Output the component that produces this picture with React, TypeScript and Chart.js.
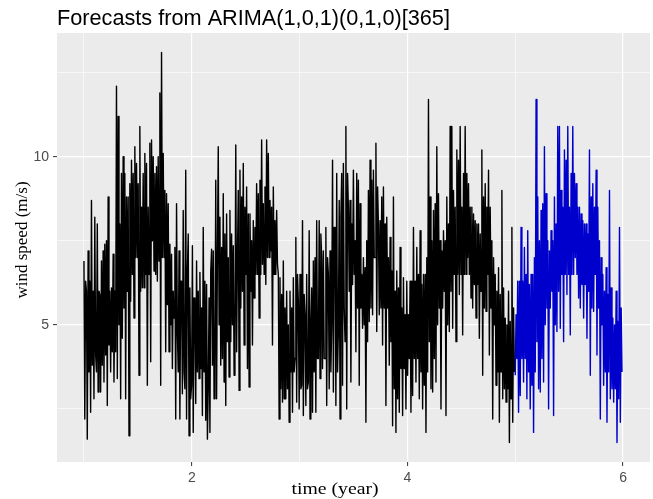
import { useEffect, useRef } from "react";
import { Chart, registerables } from "chart.js";

Chart.register(...registerables);

const startYear = 1;
const forecastStartYear = 5;
const observedYears = 4;

const observedWind = [
  6.9, 2.2, 6.3,
  6.0, 1.6, 7.2, 3.6,
  6.3, 2.4, 8.7, 3.8,
  6.0, 2.8, 8.2, 4.1,
  3.6, 8.0, 3.0, 6.0,
  5.9, 3.0, 6.9, 3.8,
  7.2, 3.3, 7.4, 4.1,
  7.5, 2.6, 8.8, 4.4,
  6.0, 3.6, 6.1, 4.2,
  7.1, 3.3, 6.0, 4.2,
  12.1, 3.4, 11.2, 5.0,
  8.0, 2.8, 9.5, 4.6,
  10.0, 5.5, 9.5, 2.8,
  8.8, 6.0, 8.8, 1.7,
  9.2, 5.7, 9.9, 6.5,
  9.5, 5.2, 10.3, 7.0,
  9.8, 7.0, 9.2, 3.5,
  10.9, 6.0, 8.5, 6.1,
  9.5, 6.1, 10.1, 6.5,
  9.8, 3.2, 8.5, 6.5,
  10.4, 3.9, 10.5, 7.5,
  10.0, 6.6, 9.5, 6.5,
  9.7, 6.3, 10.0, 6.9,
  11.9, 3.2, 13.1, 7.0,
  10.1, 7.0, 9.0, 4.2,
  8.9, 5.6, 8.6, 4.2,
  7.4, 5.0, 7.1, 3.7, 6.0, 5.2,
  // ~1.84 - 2.67
  7.3, 2.2, 8.6, 4.8,
  3.6, 7.2, 2.2, 6.3,
  6.3, 2.95, 8.4, 3.6,
  3.1, 9.6, 2.2, 6.6,
  7.7, 1.7, 6.1, 2.8,
  3.2, 7.35, 1.8, 5.8,
  5.5, 2.66, 6.9, 3.6,
  6.0, 3.4, 6.56, 3.7,
  5.5, 2.3, 7.9, 3.6,
  6.3, 2.16, 6.2, 1.6,
  3.1, 5.8, 1.8, 6.6,
  7.25, 3.8, 7.2, 2.8,
  3.6, 9.3, 2.8, 7.1,
  10.3, 5.0, 8.2, 3.8,
  7.3, 4.0, 8.9, 3.3,
  7.7, 2.6, 8.3, 4.5,
  7.0, 3.45, 8.4, 4.5,
  7.7, 5.0, 7.35, 3.5,
  4.5, 10.35, 4.2, 7.0,
  9.0, 3.05, 9.6, 5.5,
  8.8, 6.0, 9.8, 4.4,
  8.5, 6.5, 9.1, 3.7,
  8.3, 3.15, 8.3, 6.0,
  7.5, 4.4, 8.1, 5.8,
  7.9, 6.5, 9.2, 6.5,
  8.9, 5.2, 9.3, 6.5, 10.5, 6.8, 8.6, 6.5,
  // ~2.67 - 3.51
  9.1, 6.2, 10.5, 7.0,
  10.1, 7.0, 8.7, 7.2,
  8.5, 4.4, 9.1, 6.5,
  8.1, 6.5, 8.4, 6.8,
  6.5, 2.2, 6.4, 3.1,
  5.9, 2.7, 6.9, 2.8,
  5.5, 2.8, 6.0, 3.1,
  5.0, 2.1, 6.0, 3.6,
  5.5, 2.4, 6.4, 3.6,
  4.0, 7.6, 2.7, 6.5,
  5.7, 2.5, 6.5, 3.1,
  3.2, 8.1, 2.3, 5.9,
  5.3, 2.6, 6.5, 3.1,
  3.3, 7.8, 2.2, 5.0,
  6.1, 2.4, 6.9, 3.6,
  7.0, 2.4, 8.1, 4.0,
  4.0, 8.1, 3.4, 7.7,
  7.0, 3.7, 7.2, 4.0,
  4.0, 7.9, 2.6, 7.0,
  6.5, 3.1, 7.2, 3.6,
  5.0, 9.9, 3.0, 7.9,
  7.9, 2.6, 9.5, 3.6,
  4.8, 8.7, 2.2, 8.2,
  9.5, 3.2, 9.8, 5.5,
  4.5, 10.9, 2.5, 9.5,
  8.5, 6.0, 8.7, 3.3, 8.0, 6.2, 9.6, 6.5,
  // ~3.51 - 4.34
  7.5, 4.2, 9.5, 5.5,
  9.3, 3.2, 8.6, 5.5,
  6.5, 4.9, 7.0, 5.0,
  6.7, 2.1, 7.5, 4.5,
  9.0, 5.1, 9.9, 5.5,
  9.3, 5.3, 9.6, 7.0,
  7.0, 10.4, 4.8, 9.1,
  8.0, 5.3, 8.1, 5.5,
  8.8, 4.4, 9.1, 5.5,
  8.0, 2.6, 8.2, 5.5,
  7.0, 3.8, 7.6, 4.5,
  6.6, 2.0, 8.8, 3.1,
  6.0, 1.8, 6.6, 2.8,
  6.1, 2.4, 7.3, 3.7,
  5.5, 2.3, 6.4, 3.7,
  5.3, 2.5, 6.3, 3.5,
  5.3, 4.0, 6.3, 2.4,
  6.3, 2.9, 7.9, 4.0,
  6.3, 3.3, 7.3, 4.0,
  6.5, 2.8, 7.8, 3.6,
  6.2, 2.5, 6.5, 3.2,
  6.5, 1.8, 7.0, 3.6,
  11.7, 4.5, 8.8, 3.1,
  7.5, 3.0, 8.4, 4.0,
  8.6, 3.3, 10.3, 5.0,
  8.9, 5.5, 7.5, 2.5, 7.2, 5.5, 7.8, 6.0,
  // ~4.34 - 5
  7.5, 2.3, 8.8, 5.0,
  8.0, 4.8, 10.9, 6.0,
  10.9, 4.9, 9.0, 6.5,
  8.5, 4.5, 10.2, 6.5,
  9.9, 5.9, 10.9, 6.5,
  8.5, 4.7, 9.5, 6.5,
  10.9, 6.5, 9.5, 7.0,
  9.2, 6.5, 8.5, 5.8,
  8.5, 5.5, 8.3, 6.2,
  8.1, 5.2, 8.0, 6.2,
  8.0, 4.6, 7.7, 6.0,
  10.2, 3.5, 8.8, 5.5,
  9.2, 5.4, 8.5, 6.5,
  9.6, 4.1, 8.5, 5.5,
  7.5, 2.2, 7.0, 5.0,
  6.5, 3.2, 6.0, 3.6,
  6.7, 2.1, 5.9, 3.6,
  9.0, 2.8, 6.1, 3.1,
  5.2, 2.7, 5.0, 3.1,
  6.0, 1.5, 5.1, 2.8,
  7.9, 2.1, 5.5, 3.6,
];

// Forecast (blue) wind speed (m/s) (years 5 to 6)
const forecastWind = [
  3.5,
  5.3, 4.0, 6.3, 2.4,
  6.3, 2.9, 7.9, 4.0,
  6.3, 3.3, 7.3, 4.0,
  6.5, 2.8, 7.8, 3.6,
  6.2, 2.5, 6.5, 3.2,
  6.5, 1.8, 7.0, 3.6,
  11.7, 4.5, 8.8, 3.1,
  7.5, 3.0, 8.4, 4.0,
  8.6, 3.3, 10.3, 5.0,
  8.9, 5.5, 7.5, 2.5, 7.2, 5.5, 7.8, 6.0,
  7.5, 2.3, 8.8, 5.0,
  8.0, 4.8, 10.9, 6.0,
  10.9, 4.9, 9.0, 6.5,
  8.5, 4.5, 10.2, 6.5,
  9.9, 5.9, 10.9, 6.5,
  8.5, 4.7, 9.5, 6.5,
  10.9, 6.5, 9.5, 7.0,
  9.2, 6.5, 8.5, 5.8,
  8.5, 5.5, 8.3, 6.2,
  8.1, 5.2, 8.0, 6.2,
  8.0, 4.6, 7.7, 6.0,
  10.2, 3.5, 8.8, 5.5,
  9.2, 5.4, 8.5, 6.5,
  9.6, 4.1, 8.5, 5.5,
  7.5, 2.2, 7.0, 5.0,
  6.5, 3.2, 6.0, 3.6,
  6.7, 2.1, 5.9, 3.6,
  9.0, 2.8, 6.1, 3.1,
  5.2, 2.7, 5.0, 3.1,
  6.0, 1.5, 5.1, 2.8,
  7.9, 2.1, 5.5, 3.6,
];

const xGridTicks = [1, 2, 3, 4, 5, 6];
const xLabelTicks = [2, 4, 6];
const yGridTicks = [2.5, 5, 7.5, 10, 12.5];
const yLabelTicks = [5, 10];

const titleText = "Forecasts from ARIMA(1,0,1)(0,1,0)[365]";
const xTitleText = "time (year)";
const yTitleText = "wind speed (m/s)";

export default function App() {
  const ref = useRef<HTMLCanvasElement>(null);

  useEffect(() => {
    document.body.style.margin = "0";
    const canvas = ref.current;
    if (!canvas) return;
    const perYear = observedWind.length / observedYears;
    const obs = observedWind.map((v, i) => ({ x: startYear + i / perYear, y: v }));
    const fc = forecastWind.map((v, i) => ({ x: forecastStartYear + i / perYear, y: v }));

    const panelBg = {
      id: "panelBg",
      beforeDraw(chart: any) {
        const { ctx, chartArea: a } = chart;
        ctx.save();
        ctx.fillStyle = "#EBEBEB";
        ctx.fillRect(a.left, a.top, a.right - a.left, a.bottom - a.top);
        ctx.restore();
      },
    };

    const texts = {
      id: "texts",
      afterDraw(chart: any) {
        const { ctx, chartArea: a } = chart;
        ctx.save();
        ctx.fillStyle = "#000000";
        ctx.textBaseline = "alphabetic";
        ctx.textAlign = "left";
        ctx.font = "21.7px 'Liberation Sans', Arial, sans-serif";
        ctx.fillText(titleText, a.left, 25);
        ctx.restore();

        ctx.save();
        ctx.fillStyle = "#000000";
        ctx.font = "17px 'Liberation Serif', 'Times New Roman', serif";
        ctx.textAlign = "center";
        ctx.textBaseline = "alphabetic";
        ctx.translate(335, 494);
        ctx.scale(1.16, 1);
        ctx.fillText(xTitleText, 0, 0);
        ctx.restore();

        ctx.save();
        ctx.fillStyle = "#000000";
        ctx.font = "17px 'Liberation Serif', 'Times New Roman', serif";
        ctx.textAlign = "center";
        ctx.textBaseline = "middle";
        ctx.translate(23, 240);
        ctx.rotate(-Math.PI / 2);
        ctx.fillText(yTitleText, 0, 0);
        ctx.restore();
      },
    };

    const gridWidth = (majors: number[]) => (c: any) =>
      c.tick && majors.includes(c.tick.value) ? 1.2 : 0.6;
    const tickCol = (majors: number[]) => (c: any) =>
      c.tick && majors.includes(c.tick.value) ? "#333333" : "rgba(0,0,0,0)";

    const chart = new Chart(canvas, {
      type: "line",
      data: {
        datasets: [
          {
            data: obs,
            borderColor: "#000000",
            borderWidth: 1.4,
            pointRadius: 0,
            tension: 0,
            borderJoinStyle: "round",
          },
          {
            data: fc,
            borderColor: "#0000CC",
            borderWidth: 1.4,
            pointRadius: 0,
            tension: 0,
            borderJoinStyle: "round",
          },
        ],
      },
      options: {
        animation: false,
        responsive: false,
        devicePixelRatio: 1,
        layout: { padding: { top: 33, right: 3, left: 0, bottom: 0 } },
        plugins: {
          legend: { display: false },
          tooltip: { enabled: false },
          title: { display: false },
        },
        scales: {
          x: {
            type: "linear",
            min: 0.75,
            max: 6.25,
            afterBuildTicks: (s: any) => {
              s.ticks = xGridTicks.map((v) => ({ value: v }));
            },
            afterFit: (s: any) => {
              s.height = 37;
            },
            ticks: {
              autoSkip: false,
              maxRotation: 0,
              padding: 4,
              color: "#4D4D4D",
              font: { family: "'Liberation Sans', Arial, sans-serif", size: 14 },
              callback: (v: any) => (xLabelTicks.includes(Number(v)) ? String(v) : ""),
            },
            grid: {
              color: "#FFFFFF",
              lineWidth: gridWidth(xLabelTicks),
              tickColor: tickCol(xLabelTicks),
              tickLength: 4,
              tickWidth: 1,
            },
            border: { display: false },
          },
          y: {
            type: "linear",
            min: 0.92,
            max: 13.68,
            afterBuildTicks: (s: any) => {
              s.ticks = yGridTicks.map((v) => ({ value: v }));
            },
            afterFit: (s: any) => {
              s.width = 57;
            },
            ticks: {
              autoSkip: false,
              padding: 4,
              color: "#4D4D4D",
              font: { family: "'Liberation Sans', Arial, sans-serif", size: 14 },
              callback: (v: any) => (yLabelTicks.includes(Number(v)) ? String(v) : ""),
            },
            grid: {
              color: "#FFFFFF",
              lineWidth: gridWidth(yLabelTicks),
              tickColor: tickCol(yLabelTicks),
              tickLength: 4,
              tickWidth: 1,
            },
            border: { display: false },
          },
        },
      } as any,
      plugins: [panelBg, texts],
    });

    return () => chart.destroy();
  }, []);

  return (
    <div style={{ width: 653, height: 499 }}>
      <canvas ref={ref} width={653} height={499} style={{ display: "block" }} />
    </div>
  );
}
